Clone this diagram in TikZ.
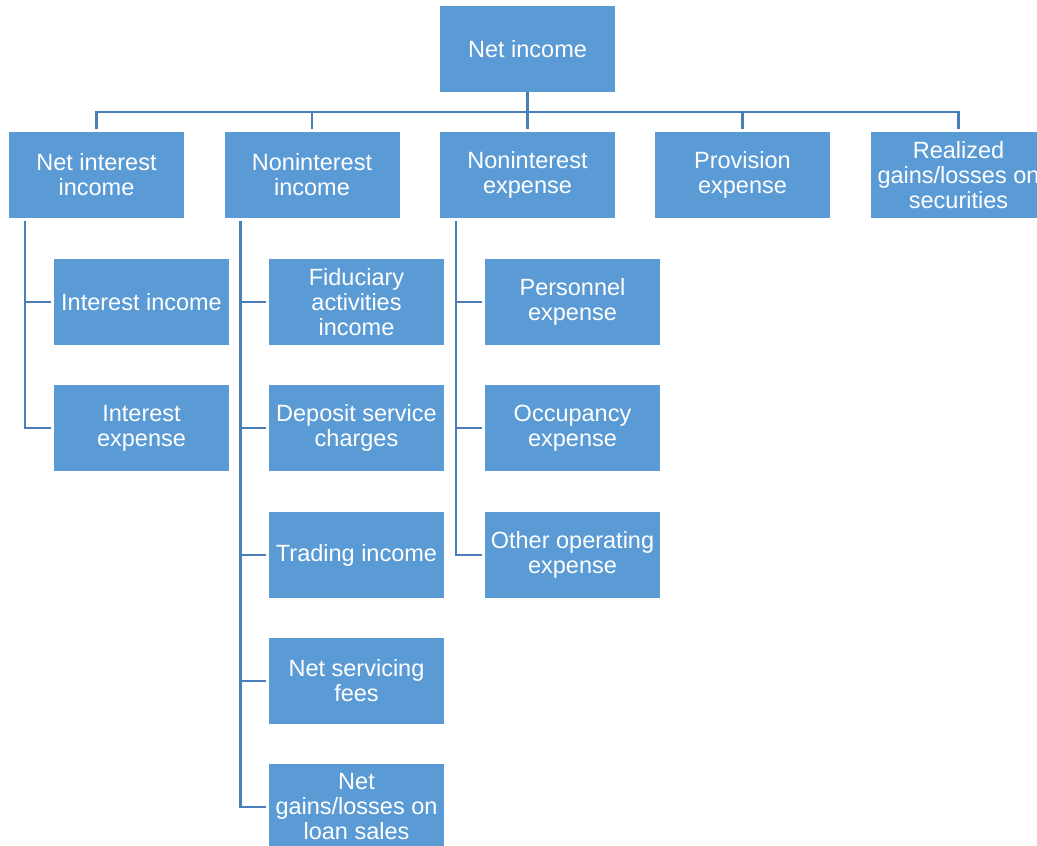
\documentclass[tikz,border=0pt]{standalone}
\usepackage{fontspec}
\setmainfont{Liberation Sans}
\definecolor{boxblue}{HTML}{5B9BD5}
\definecolor{linkblue}{HTML}{4A7EBB}
\begin{document}
\begin{tikzpicture}[x=1pt,y=-1pt,
  box/.style={fill=boxblue,text=white,minimum width=175pt,minimum height=86pt,inner sep=0pt,
    align=center,font=\fontsize{23.5}{25}\selectfont},
  link/.style={draw=linkblue,line width=2.5pt}]
\clip (0,0) rectangle (1037,846);
\node[box] (top) at (527.5,49) {Net income};
\node[box] (nii) at (96.5,175) {Net interest\\income};
\node[box] (noi) at (312,175) {Noninterest\\income};
\node[box] (noe) at (527.5,175) {Noninterest\\expense};
\node[box] (prov) at (742.5,175) {Provision\\expense};
\node[box] (real) at (958.5,175) {Realized\\gains/losses on\\securities};
\node[box] (ii) at (141.5,302) {Interest income};
\node[box] (ie) at (141.5,428) {Interest\\expense};
\node[box] (fid) at (356.5,302) {Fiduciary\\activities\\income};
\node[box] (dep) at (356.5,428) {Deposit service\\charges};
\node[box] (trd) at (356.5,555) {Trading income};
\node[box] (nsf) at (356.5,681) {Net servicing\\fees};
\node[box] (ngl) at (356.5,807) {Net\\gains/losses on\\loan sales};
\node[box] (pers) at (572.5,302) {Personnel\\expense};
\node[box] (occ) at (572.5,428) {Occupancy\\expense};
\node[box] (oth) at (572.5,555) {Other operating\\expense};
\foreach \c in {nii,noi,noe,prov,real}
  \draw[link] (top.south) -- ++(0,20) -| ([yshift=3pt]\c.north);
\foreach \p/\c in {nii/ii,nii/ie,noi/fid,noi/dep,noi/trd,noi/nsf,noi/ngl,noe/pers,noe/occ,noe/oth}
  \draw[link] ([xshift=16pt,yshift=-3pt]\p.south west) |- ([xshift=-3pt]\c.west);
\end{tikzpicture}
\end{document}
